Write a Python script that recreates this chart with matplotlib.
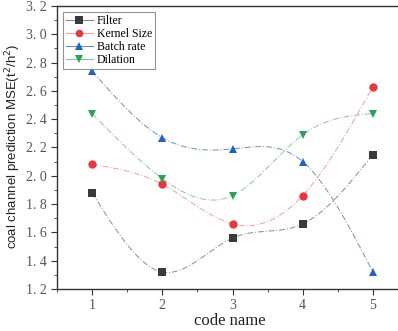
import numpy as np
import matplotlib
matplotlib.use("Agg")
import matplotlib.pyplot as plt
from matplotlib.ticker import MultipleLocator
from matplotlib.lines import Line2D

codes = [1, 2, 3, 4, 5]
filter_mse = [1.88, 1.32, 1.56, 1.66, 2.15]
kernel_mse = [2.08, 1.94, 1.66, 1.86, 2.63]
batch_mse = [2.74, 2.27, 2.19, 2.10, 1.32]
dilation_mse = [2.44, 1.98, 1.86, 2.29, 2.44]


def smooth(x, y, n=200):
    # natural cubic spline through the points, only for drawing the curve
    x = np.asarray(x, float)
    y = np.asarray(y, float)
    k = len(x)
    h = np.diff(x)
    A = np.zeros((k, k))
    b = np.zeros(k)
    A[0, 0] = A[-1, -1] = 1
    for i in range(1, k - 1):
        A[i, i - 1] = h[i - 1]
        A[i, i] = 2 * (h[i - 1] + h[i])
        A[i, i + 1] = h[i]
        b[i] = 6 * ((y[i + 1] - y[i]) / h[i] - (y[i] - y[i - 1]) / h[i - 1])
    m = np.linalg.solve(A, b)
    xs = np.linspace(x[0], x[-1], n)
    idx = np.clip(np.searchsorted(x, xs) - 1, 0, k - 2)
    x0, x1 = x[idx], x[idx + 1]
    hh = x1 - x0
    t0, t1 = x1 - xs, xs - x0
    ys = (m[idx] * t0 ** 3 + m[idx + 1] * t1 ** 3) / (6 * hh) \
        + (y[idx] / hh - m[idx] * hh / 6) * t0 \
        + (y[idx + 1] / hh - m[idx + 1] * hh / 6) * t1
    return xs, ys


series = [
    ("Filter", filter_mse, "#3a3a3a", "s", "#8a8a8a"),
    ("Kernel Size", kernel_mse, "#e8383c", "o", "#e8a0a0"),
    ("Batch rate", batch_mse, "#1f63c6", "^", "#6f8fb8"),
    ("Dilation", dilation_mse, "#2aa05a", "v", "#8fc4a0"),
]

serif = ["Liberation Serif", "DejaVu Serif"]
dash = (0, (6, 2, 1, 2))

fig = plt.figure(figsize=(3.98, 3.31), dpi=100)
ax = fig.add_axes([0.1432, 0.1269, 0.882, 0.855])

handles = []
for name, vals, col, mk, lcol in series:
    xs, ys = smooth(codes, vals)
    ax.plot(xs, ys, color=lcol, lw=0.7, ls=dash, zorder=1)
    ax.plot(codes, vals, ls="none", marker=mk, color=col, ms=6,
            markeredgewidth=0, zorder=2)
    handles.append(Line2D([], [], color=lcol, lw=0.8, marker=mk, ms=5.5,
                          markerfacecolor=col, markeredgewidth=0, label=name))

ax.set_xlim(0.5, 5.5)
ax.set_ylim(1.2, 3.2)
ax.xaxis.set_major_locator(MultipleLocator(1))
ax.xaxis.set_minor_locator(MultipleLocator(0.5))
ax.yaxis.set_major_locator(MultipleLocator(0.2))
ax.yaxis.set_minor_locator(MultipleLocator(0.1))
ax.tick_params(which="major", direction="out", length=4, width=0.8, colors="#333333",
               labelsize=10, labelcolor="#555555")
ax.tick_params(which="minor", direction="out", length=2, width=0.6, colors="#333333")
ax.yaxis.set_major_formatter(plt.FuncFormatter(lambda v, p: f"{v:.1f}".replace(".", ". ")))
for lab in ax.get_xticklabels() + ax.get_yticklabels():
    lab.set_family(serif)

for s in ax.spines.values():
    s.set_color("#333333")
    s.set_linewidth(1.0)

ax.set_xlabel("code name", family=serif, fontsize=12, color="#222222")
ax.xaxis.set_label_coords(0.493, -0.085)
ax.set_ylabel("coal channel prediction MSE(t$^2$/h$^2$)", family=["Liberation Sans", "DejaVu Sans"],
              fontsize=9.5, color="#222222")
ax.yaxis.set_label_coords(-0.097, 0.505)

leg = ax.legend(handles=handles, loc="upper left", prop={"family": serif, "size": 8.5},
                frameon=True, fancybox=False, edgecolor="#777777", borderpad=0.25,
                labelspacing=0.1, handlelength=2.3, handletextpad=0.3, borderaxespad=0.5)
leg.get_frame().set_linewidth(0.8)

fig.savefig("out.png", dpi=100)
